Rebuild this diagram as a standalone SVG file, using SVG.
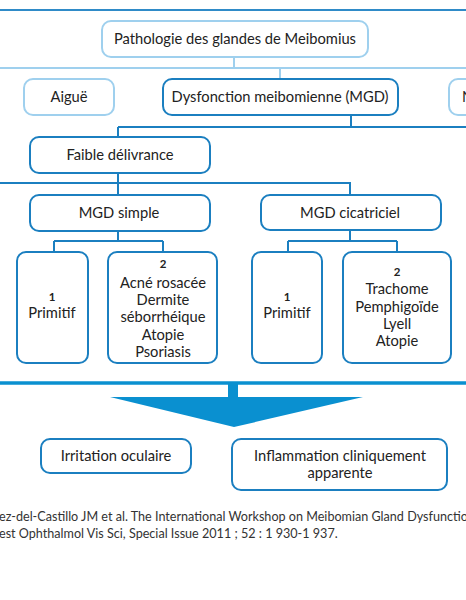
<svg xmlns="http://www.w3.org/2000/svg" width="466" height="600" viewBox="0 0 466 600">
<style>
.lb{fill:#fff;stroke:#9fd0ee;stroke-width:2}
.db{fill:#fff;stroke:#1b7fc0;stroke-width:2}
.lc{fill:none;stroke:#9fd0ee;stroke-width:2}
.dc{fill:none;stroke:#1b7fc0;stroke-width:2}
text{font-family:Lato,"Noto Sans",sans-serif;font-size:14.7px;fill:#222;text-anchor:middle}
.n{font-size:11.5px;font-weight:bold}
.f{font-size:12.6px;text-anchor:start;fill:#333}
</style>
<rect width="466" height="600" fill="#fff"/>
<g id="connectors">
<line x1="0" y1="10" x2="466" y2="10" stroke="#2f8bc8" stroke-width="2"/>
<path class="lc" d="M234 57V68M0 68H466M280 68V79"/>
<path class="dc" d="M351 115V127M118 127H466M118 127V137M118 173V195M0 183H350V195M118 231V241M54 241H163M54 241V252M163 241V252M350 230V241M288 241H397M288 241V252M397 241V252"/>
<line x1="0" y1="383" x2="466" y2="383" stroke="#0a90d0" stroke-width="3.5"/>
<rect x="228" y="383" width="10" height="15" fill="#0a90d0"/>
<polygon points="110,397 363,397 234,427" fill="#0a90d0"/>
</g>
<g id="pathologie"><rect class="lb" x="102" y="21" width="266" height="36" rx="9"/><text x="235" y="44">Pathologie des glandes de Meibomius</text></g>
<g id="aigue"><rect class="lb" x="24" y="79" width="90" height="36" rx="9"/><text x="69" y="102">Aiguë</text></g>
<g id="mgd"><rect class="db" x="163" y="79" width="235" height="36" rx="9"/><text x="280" y="102">Dysfonction meibomienne (MGD)</text></g>
<g id="right"><rect class="lb" x="449" y="79" width="40" height="36" rx="9"/><text x="462" y="102" style="text-anchor:start">N</text></g>
<g id="faible"><rect class="db" x="30" y="137" width="180" height="36" rx="9"/><text x="120" y="160">Faible délivrance</text></g>
<g id="simple"><rect class="db" x="30" y="195" width="180" height="36" rx="9"/><text x="119" y="218">MGD simple</text></g>
<g id="cicatriciel"><rect class="db" x="261" y="195" width="180" height="35" rx="9"/><text x="350" y="218">MGD cicatriciel</text></g>
<g id="s1"><rect class="db" x="17" y="252" width="71" height="111" rx="9"/><text class="n" x="52" y="301">1</text><text x="52" y="318">Primitif</text></g>
<g id="s2"><rect class="db" x="108" y="252" width="109" height="111" rx="9"/><text class="n" x="163" y="268">2</text><text x="163" y="288">Acné rosacée</text><text x="163" y="305">Dermite</text><text x="163" y="322">séborrhéique</text><text x="163" y="340">Atopie</text><text x="163" y="357">Psoriasis</text></g>
<g id="c1"><rect class="db" x="252" y="252" width="70" height="111" rx="9"/><text class="n" x="287" y="301">1</text><text x="287" y="318">Primitif</text></g>
<g id="c2"><rect class="db" x="343" y="252" width="108" height="111" rx="9"/><text class="n" x="397" y="276">2</text><text x="397" y="294">Trachome</text><text x="397" y="312">Pemphigoïde</text><text x="397" y="329">Lyell</text><text x="397" y="346">Atopie</text></g>
<g id="irritation"><rect class="db" x="41" y="439" width="150" height="34" rx="9"/><text x="116" y="461">Irritation oculaire</text></g>
<g id="inflammation"><rect class="db" x="232" y="439" width="215" height="51" rx="9"/><text x="340" y="461">Inflammation cliniquement</text><text x="340" y="478">apparente</text></g>
<g id="footnote"><text class="f" x="-1" y="521">ez-del-Castillo JM et al. The International Workshop on Meibomian Gland Dysfunctio</text><text class="f" x="-1" y="538">est Ophthalmol Vis Sci, Special Issue 2011 ; 52 : 1 930-1 937.</text></g>
</svg>
